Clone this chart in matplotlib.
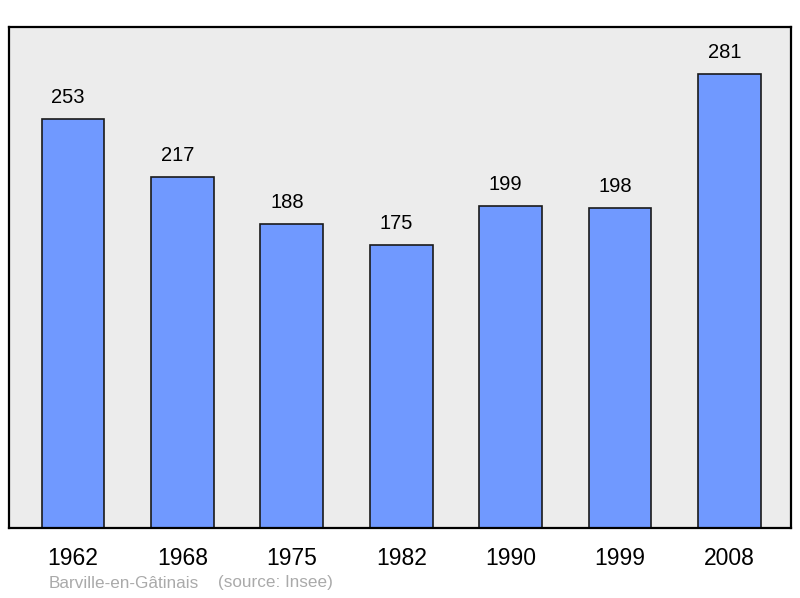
import matplotlib
matplotlib.use("Agg")
import matplotlib.pyplot as plt

years = ["1962", "1968", "1975", "1982", "1990", "1999", "2008"]
population = [253, 217, 188, 175, 199, 198, 281]
commune = "Barville-en-Gâtinais"
source = "(source: Insee)"

plt.rcParams['font.family'] = ['Liberation Sans', 'DejaVu Sans']

fig = plt.figure(figsize=(8, 5.98), dpi=100)
ax = fig.add_axes([9 / 800, 70 / 598, 782 / 800, 501 / 598])
ax.set_facecolor('#ececec')

xs = list(range(len(years)))
ax.bar(xs, population, width=0.575, color='#7099ff', edgecolor='#1a1a1a', linewidth=1.2)
for x, v in zip(xs, population):
  ax.annotate(str(v), (x, v), xytext=(-3.5, 15.5), textcoords='offset points',
              ha='center', va='center', fontsize=14.5)

ax.set_xlim(-0.585, 6.563)
ax.set_ylim(0, 310)
ax.set_xticks(xs)
ax.set_xticklabels(years, fontsize=16.5)
ax.tick_params(axis='x', length=0, pad=14)
ax.set_yticks([])
for sp in ax.spines.values():
  sp.set_linewidth(1.6)

fig.text(49 / 800, 1 - 583 / 598, commune, color='#aaaaaa', fontsize=12.3, va='center')
fig.text(218 / 800, 1 - 583 / 598, source, color='#aaaaaa', fontsize=12.3, va='center')

plt.savefig('out.png', dpi=100)
